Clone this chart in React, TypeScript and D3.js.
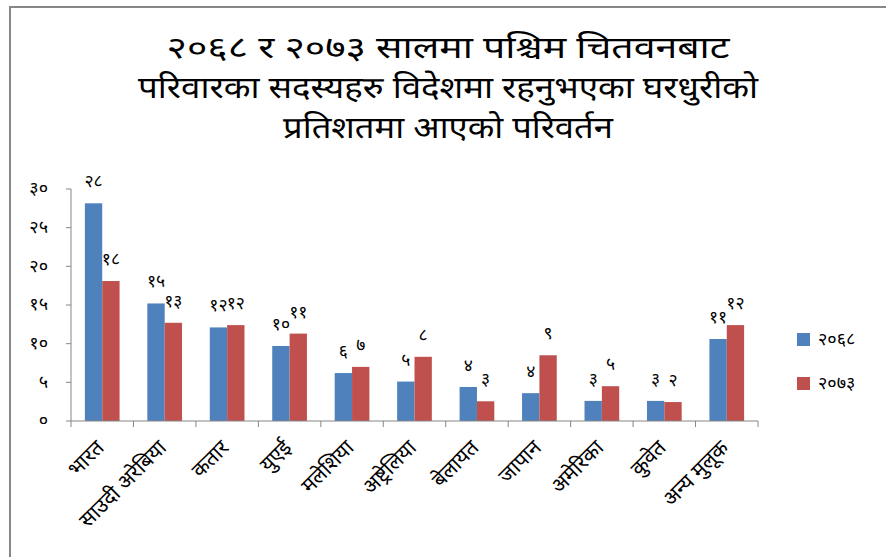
import React from "react";
import * as d3 from "d3";

const categories = ["भारत", "साउदी अरेबिया", "कतार", "युएई", "मलेशिया", "अष्ट्रेलिया", "बेलायत", "जापान", "अमेरिका", "कुवेत", "अन्य मुलूक"];
const series2068 = [28.15, 15.2, 12.1, 9.7, 6.2, 5.1, 4.4, 3.6, 2.6, 2.6, 10.6];
const series2073 = [18.1, 12.7, 12.4, 11.3, 7.0, 8.3, 2.55, 8.5, 4.5, 2.45, 12.4];
const seriesNames = ["२०६८", "२०७३"];
const seriesColors = ["#4F81BD", "#C0504D"];
const yTicks = [0, 5, 10, 15, 20, 25, 30];
const titleLines = ["२०६८ र  २०७३ सालमा पश्चिम चितवनबाट", "परिवारका सदस्यहरु विदेशमा रहनुभएका घरधुरीको", "प्रतिशतमा आएको परिवर्तन"];
const titleWidths = [563, 620, 330];

const W = 886, H = 557;
const FONT = "'Noto Sans Devanagari', Mangal, 'Noto Sans', sans-serif";
const devDigits = "०१२३४५६७८९";
const toDev = (n: number) => String(n).replace(/[0-9]/g, (d) => devDigits[+d]);

export default function App() {
  const x0 = d3.scaleBand<string>().domain(categories).range([71, 758]).paddingInner(0).paddingOuter(0);
  const bw = x0.bandwidth();
  const groupW = bw / 1.8;
  const x1 = d3.scaleBand<string>().domain(seriesNames).range([(bw - groupW) / 2, (bw + groupW) / 2]);
  const y = d3.scaleLinear().domain([0, 30]).range([421, 189]);
  const all = [series2068, series2073];

  return (
    <div style={{ position: "absolute", left: 0, top: 0, width: W, height: H, overflow: "hidden" }}>
      <svg width={W} height={H} style={{ display: "block", fontFamily: FONT }}>
        <rect x={0} y={0} width={W} height={H} fill="#fff" />
        <rect x={10} y={7} width={W + 10} height={H + 10} fill="#fff" stroke="#878787" strokeWidth={2} />
        {titleLines.map((t, i) => (
          <text key={i} x={448} y={58 + i * 40} textAnchor="middle" fontSize={30} fill="#000"
            textLength={titleWidths[i]} lengthAdjust="spacingAndGlyphs">{t}</text>
        ))}
        {/* y axis */}
        <line x1={71} x2={71} y1={y(30)} y2={y(0)} stroke="#868686" />
        {yTicks.map((t) => (
          <g key={t}>
            <line x1={66} x2={71} y1={y(t)} y2={y(t)} stroke="#868686" />
            <text x={48} y={y(t)} dy="0.3em" textAnchor="end" fontSize={18} fill="#000">{toDev(t)}</text>
          </g>
        ))}
        {/* bars */}
        {all.map((s, si) =>
          s.map((v, i) => {
            const bx = (x0(categories[i]) as number) + (x1(seriesNames[si]) as number);
            return (
              <rect key={si + "-" + i} x={bx} y={y(v)} width={x1.bandwidth()} height={y(0) - y(v)} fill={seriesColors[si]} />
            );
          })
        )}
        {/* data labels */}
        {all.map((s, si) =>
          s.map((v, i) => {
            const bx = (x0(categories[i]) as number) + (x1(seriesNames[si]) as number) + x1.bandwidth() / 2;
            return (
              <text key={"l" + si + "-" + i} x={bx} y={y(v) - 16} textAnchor="middle" fontSize={17.5} fill="#000">{toDev(Math.round(v))}</text>
            );
          })
        )}
        {/* x axis */}
        <line x1={71} x2={758} y1={y(0)} y2={y(0)} stroke="#868686" />
        {categories.concat([""]).map((c, i) => {
          const tx = 71 + i * bw;
          return <line key={"t" + i} x1={tx} x2={tx} y1={y(0)} y2={y(0) + 6} stroke="#868686" />;
        })}
        {categories.map((c, i) => {
          const cx = (x0(c) as number) + bw / 2 + 3;
          return (
            <text key={"c" + i} transform={`translate(${cx},${y(0) + 28}) rotate(-45)`} textAnchor="end" fontSize={21} fill="#000">{c}</text>
          );
        })}
        {/* legend */}
        {seriesNames.map((n, i) => (
          <g key={n} transform={`translate(797,${333 + i * 44})`}>
            <rect x={0} y={0} width={13} height={13} fill={seriesColors[i]} />
            <text x={21} y={7} dy="0.3em" fontSize={18} fill="#000">{n}</text>
          </g>
        ))}
      </svg>
    </div>
  );
}
